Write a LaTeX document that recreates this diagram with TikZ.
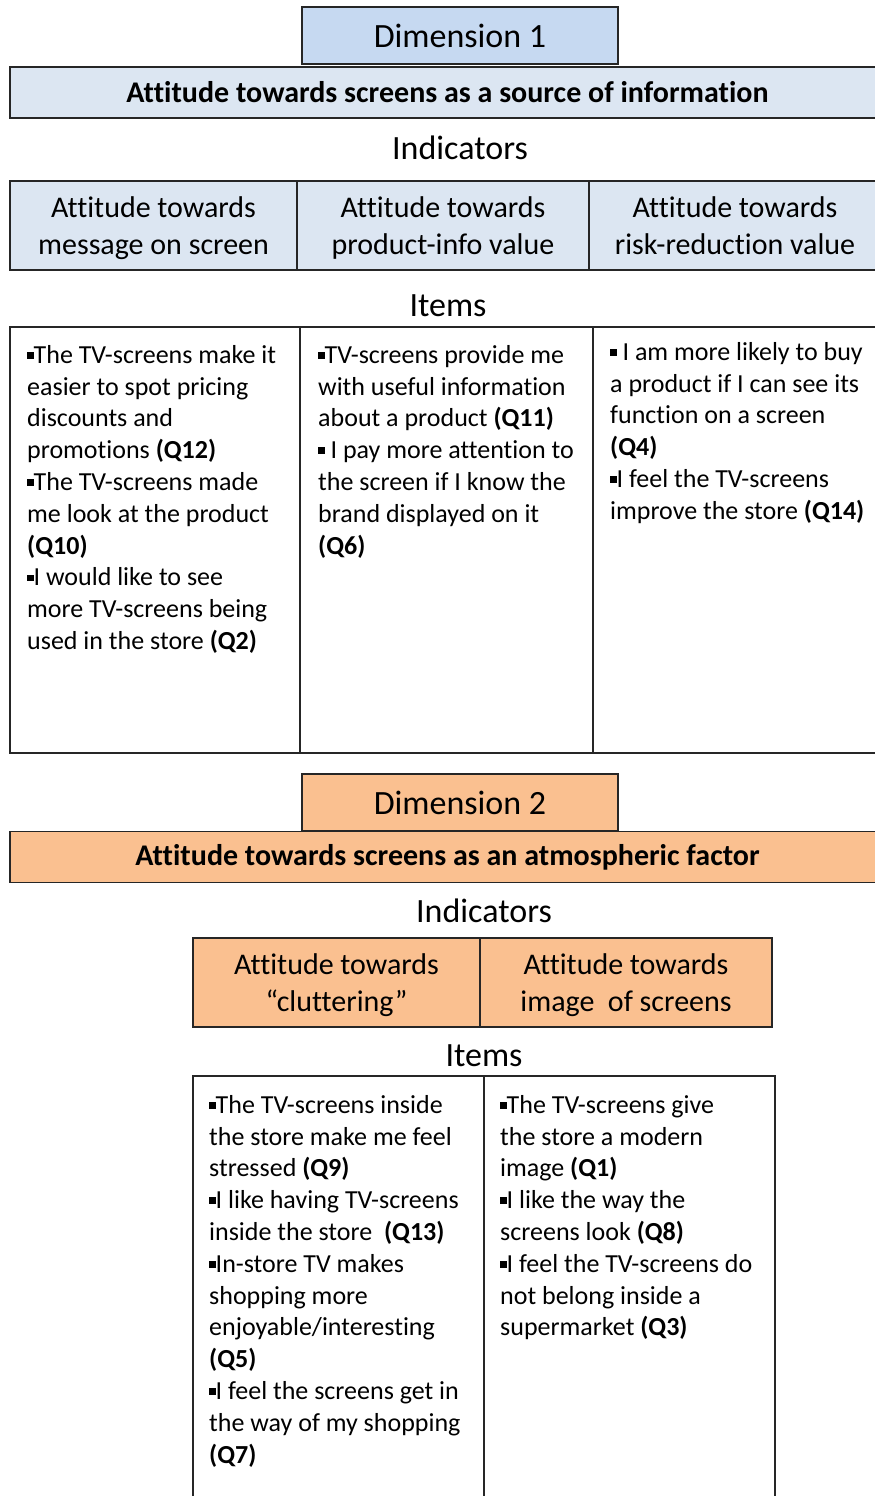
\documentclass[tikz,border=0pt]{standalone}
\usepackage{fontspec}
\setmainfont[Ligatures=NoCommon]{Carlito}
\definecolor{dimblue}{HTML}{C6D9F1}
\definecolor{lightblue}{HTML}{DCE6F2}
\definecolor{peach}{HTML}{FAC090}
\newcommand{\bul}{\rule[0.18em]{0.25em}{0.25em}}
\newcommand{\qn}[1]{\textbf{(#1)}}
\newcommand{\st}{\rule[-7.5pt]{0pt}{36pt}}
\begin{document}
\begin{tikzpicture}[x=1pt,y=-1pt,
  box/.style={draw=black!85,line width=1.4pt,inner sep=0pt,align=center},
  big/.style={font=\fontsize{34}{41}\selectfont},
  head/.style={box,font=\fontsize{30}{36}\selectfont\bfseries,minimum width=875,minimum height=51},
  ind/.style={box,font=\fontsize{30}{37}\selectfont,minimum height=89},
  items/.style={anchor=north west,inner sep=0pt,align=left,font=\fontsize{26}{31.8}\selectfont}]
\useasboundingbox (0,0) rectangle (875,1496);
% Dimension 1
\node[box,big,fill=dimblue,minimum width=316,minimum height=57] (dim1) at (460,35.5) {Dimension 1};
\node[head,fill=lightblue] (head1) at (447.5,92.5) {Attitude towards screens as a source of information};
\node[big] (ind1) at (460,148) {Indicators};
\node[ind,fill=lightblue,minimum width=287] (ia) at (153.5,225.5) {\st Attitude towards\\\st message on screen};
\node[ind,fill=lightblue,minimum width=292] (ib) at (443,225.5) {\st Attitude towards\\\st product-info value};
\node[ind,fill=lightblue,minimum width=292] (ic) at (735,225.5) {\st Attitude towards\\\st risk-reduction value};
\node[big] (itm1) at (448,306) {Items};
\node[box,minimum width=290,minimum height=426] (ca) at (155,540) {};
\node[box,minimum width=293,minimum height=426] (cb) at (446.5,540) {};
\node[box,minimum width=292,minimum height=426] (cc) at (739,540) {};
\node[items] (ta) at (27,345) {\bul The TV-screens make it\\easier to spot pricing\\discounts and\\promotions \qn{Q12}\\\bul The TV-screens made\\me look at the product\\\qn{Q10}\\\bul I would like to see\\more TV-screens being\\used in the store \qn{Q2}};
\node[items] (tb) at (318,345) {\bul TV-screens provide me\\with useful information\\about a product \qn{Q11}\\\bul\ I pay more attention to\\the screen if I know the\\brand displayed on it\\\qn{Q6}};
\node[items] (tc) at (610,342) {\bul\ I am more likely to buy\\a product if I can see its\\function on a screen\\\qn{Q4}\\\bul I feel the TV-screens\\improve the store \qn{Q14}};
% Dimension 2
\node[box,big,fill=peach,minimum width=316,minimum height=57] (dim2) at (460,802.5) {Dimension 2};
\node[head,fill=peach] (head2) at (447.5,857) {Attitude towards screens as an atmospheric factor};
\node[big] (ind2) at (484,911) {Indicators};
\node[ind,fill=peach,minimum width=287] (id) at (336.5,982.5) {\st Attitude towards\\\st “cluttering”};
\node[ind,fill=peach,minimum width=292] (ie) at (626,982.5) {\st Attitude towards\\\st image~ of screens};
\node[big] (itm2) at (484,1056) {Items};
\node[box,minimum width=291,minimum height=440] (cd) at (338.5,1296) {};
\node[box,minimum width=291,minimum height=440] (ce) at (629.5,1296) {};
\node[items] (td) at (209,1095) {\bul The TV-screens inside\\the store make me feel\\stressed \qn{Q9}\\\bul I like having TV-screens\\inside the store~ \qn{Q13}\\\bul In-store TV makes\\shopping more\\enjoyable/interesting\\\qn{Q5}\\\bul I feel the screens get in\\the way of my shopping\\\qn{Q7}};
\node[items] (te) at (500,1095) {\bul The TV-screens give\\the store a modern\\image \qn{Q1}\\\bul I like the way the\\screens look \qn{Q8}\\\bul I feel the TV-screens do\\not belong inside a\\supermarket \qn{Q3}};
\end{tikzpicture}
\end{document}
